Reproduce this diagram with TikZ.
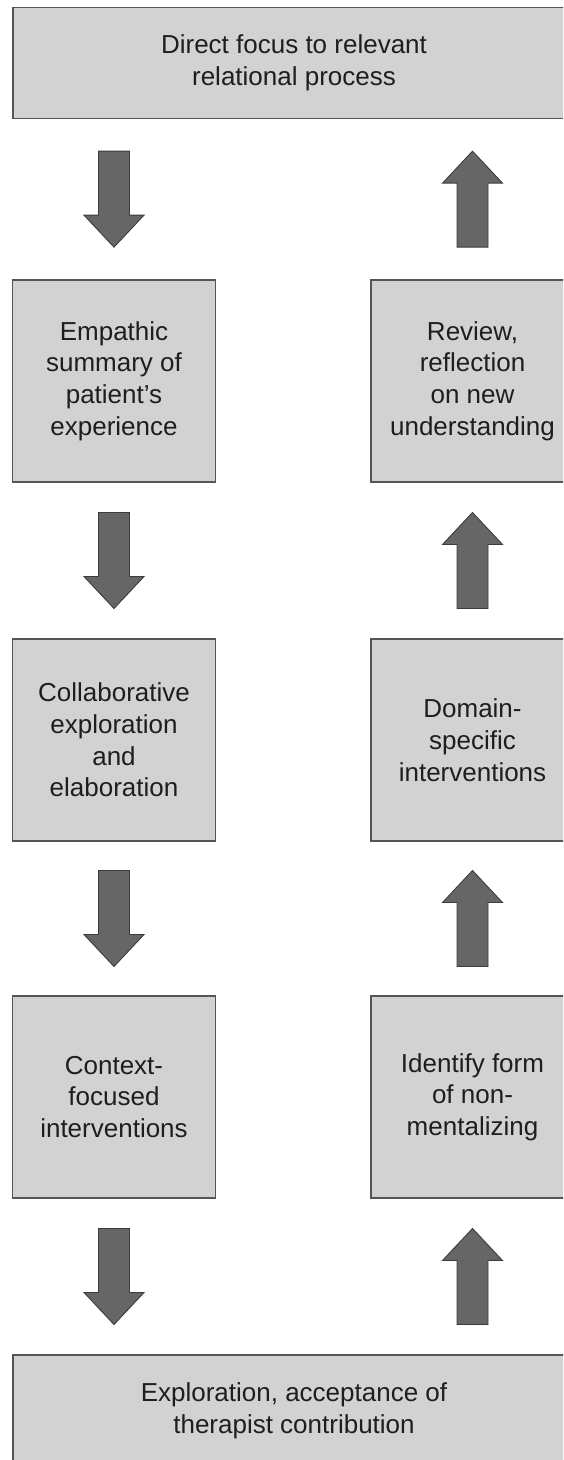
\documentclass[tikz,border=0pt]{standalone}
\usepackage{fontspec}
\setmainfont{Liberation Sans}
\usetikzlibrary{calc}

\definecolor{boxfill}{HTML}{D2D2D2}
\definecolor{boxline}{HTML}{555555}
\definecolor{arrowfill}{HTML}{666666}
\definecolor{arrowline}{HTML}{3C3C3C}
\definecolor{textcol}{HTML}{1E1E1E}

\tikzset{
  stage/.style={draw=boxline, fill=boxfill, line width=1.6pt, inner sep=0pt,
    align=center, text=textcol, font=\fontsize{26}{31.7}\selectfont},
  colbox/.style={stage, minimum width=203pt, minimum height=202pt},
  widebox/.style={stage, minimum width=562pt, minimum height=111pt},
  % block arrow centred in the gap between two boxes, pointing down
  downarrow/.style={draw=arrowline, fill=arrowfill, line width=0.9pt, line join=miter,
    to path={let \p1=(\tikztostart), \p2=(\tikztotarget), \n1={0.5*(\y1+\y2)} in
      (\x1-15.5pt,\n1+48pt) -- (\x1+15.5pt,\n1+48pt) -- (\x1+15.5pt,\n1-16pt)
      -- (\x1+30pt,\n1-16pt) -- (\x1,\n1-48pt) -- (\x1-30pt,\n1-16pt)
      -- (\x1-15.5pt,\n1-16pt) -- cycle}},
  % the same, pointing up
  uparrow/.style={draw=arrowline, fill=arrowfill, line width=0.9pt, line join=miter,
    to path={let \p1=(\tikztostart), \p2=(\tikztotarget), \n1={0.5*(\y1+\y2)} in
      (\x1-15.5pt,\n1-48pt) -- (\x1+15.5pt,\n1-48pt) -- (\x1+15.5pt,\n1+16pt)
      -- (\x1+30pt,\n1+16pt) -- (\x1,\n1+48pt) -- (\x1-30pt,\n1+16pt)
      -- (\x1-15.5pt,\n1+16pt) -- cycle}},
}

\begin{document}
\begin{tikzpicture}[x=1pt,y=1pt]
\clip (0,0) rectangle (563,-1460);
\fill[white] (0,0) rectangle (563,-1460);

% wide boxes at top and bottom
\node[widebox] (top) at (294,-62.8) {Direct focus to relevant\\relational process};
\node[widebox] (bot) at (294,-1410.5) {Exploration, acceptance of\\therapist contribution};

% left column, read downwards
\node[colbox] (emp) at (114,-381) {Empathic\\summary of\\patient’s\\experience};
\node[colbox] (col) at (114,-740) {Collaborative\\exploration\\and\\elaboration};
\node[colbox] (ctx) at (114,-1097) {Context-\\focused\\interventions};

% right column, read upwards
\node[colbox] (rev) at (472.5,-381) {Review,\\reflection\\on new\\understanding};
\node[colbox] (dom) at (472.5,-740) {Domain-\\specific\\interventions};
\node[colbox] (idf) at (472.5,-1097) {Identify form\\of non-\\mentalizing};

% downward arrows
\draw[downarrow] (top.south -| emp.north) to (emp.north);
\draw[downarrow] (emp.south) to (col.north);
\draw[downarrow] (col.south) to (ctx.north);
\draw[downarrow] (ctx.south) to (bot.north -| ctx.south);

% upward arrows
\draw[uparrow] (bot.north -| idf.south) to (idf.south);
\draw[uparrow] (idf.north) to (dom.south);
\draw[uparrow] (dom.north) to (rev.south);
\draw[uparrow] (rev.north) to (top.south -| rev.north);
\end{tikzpicture}
\end{document}
